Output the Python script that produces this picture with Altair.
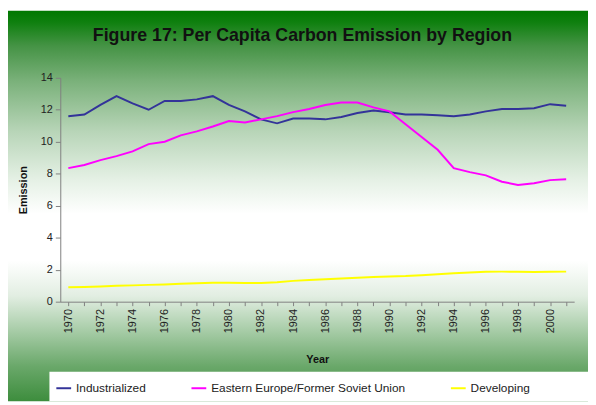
import altair as alt
import pandas as pd

years = list(range(1970, 2002))
industrialized = [11.6, 11.7, 12.3, 12.85, 12.4, 12.0, 12.55, 12.55, 12.65, 12.85, 12.3, 11.9,
                  11.4, 11.15, 11.45, 11.45, 11.4, 11.55, 11.8, 11.95, 11.85, 11.7,
                  11.7, 11.65, 11.6, 11.7, 11.9, 12.05, 12.05, 12.1, 12.35, 12.25]
eefsu = [8.35, 8.55, 8.85, 9.1, 9.4, 9.85, 10.0, 10.4, 10.65, 10.95, 11.3, 11.2,
         11.4, 11.6, 11.85, 12.05, 12.3, 12.45, 12.45, 12.15, 11.9, 11.1,
         10.3, 9.5, 8.35, 8.1, 7.9, 7.5, 7.3, 7.4, 7.6, 7.65]
developing = [0.9, 0.92, 0.95, 1.0, 1.02, 1.05, 1.08, 1.12, 1.15, 1.18, 1.18, 1.17,
              1.17, 1.22, 1.3, 1.35, 1.4, 1.45, 1.5, 1.55, 1.58, 1.6,
              1.65, 1.72, 1.78, 1.82, 1.87, 1.88, 1.87, 1.85, 1.87, 1.88]
series_names = ["Industrialized", "Eastern Europe/Former Soviet Union", "Developing"]
series_colors = ["#333399", "#ff00ff", "#ffff00"]
title_text = ["Figure 17: Per Capita Carbon Emission by Region"]

rows = []
for name, vals in zip(series_names, [industrialized, eefsu, developing]):
    for y, v in zip(years, vals):
        rows.append({"Year": y, "Emission": v, "Region": name})
df = pd.DataFrame(rows)

FONT = "Liberation Sans"
W, H = 521, 227
PL, PT, PR, PB = 53, 68, 14, 101

bg = alt.Chart(pd.DataFrame({"a": [0]})).mark_rect(
    fill=alt.Gradient(
        gradient="linear", x1=0, y1=0, x2=0, y2=1,
        stops=[
            alt.GradientStop(color="#007800", offset=0.0),
            alt.GradientStop(color="#0f800f", offset=0.03),
            alt.GradientStop(color="#459345", offset=0.09),
            alt.GradientStop(color="#7ab17a", offset=0.18),
            alt.GradientStop(color="#b8d5b8", offset=0.31),
            alt.GradientStop(color="#e4f0e4", offset=0.43),
            alt.GradientStop(color="#ffffff", offset=0.52),
            alt.GradientStop(color="#ffffff", offset=0.64),
            alt.GradientStop(color="#e2eee2", offset=0.73),
            alt.GradientStop(color="#a0c8a0", offset=0.83),
            alt.GradientStop(color="#6aa86a", offset=0.91),
            alt.GradientStop(color="#3d8d3d", offset=1.0),
        ],
    )
).encode(
    x=alt.value(-PL), x2=alt.value(W + PR),
    y=alt.value(-PT), y2=alt.value(H + PB),
)

legend_box = alt.Chart(pd.DataFrame({"a": [0]})).mark_rect(fill="white").encode(
    x=alt.value(-11), x2=alt.value(W + PR),
    y=alt.value(298), y2=alt.value(H + PB),
)

title_mark = alt.Chart(pd.DataFrame({"t": title_text})).mark_text(
    font=FONT, fontSize=18, fontWeight="bold", color="#111111",
    align="center", baseline="alphabetic",
).encode(text="t:N", x=alt.value(W / 2 - 15), y=alt.value(-37))

lines = alt.Chart(df).mark_line(strokeWidth=2).encode(
    x=alt.X("Year:Q",
            scale=alt.Scale(domain=[1969.5, 2001.5], nice=False, zero=False),
            axis=alt.Axis(values=years, labelExpr="datum.value % 2 == 0 ? datum.label : ''",
                          format="d", labelAngle=270, labelAlign="right", labelBaseline="middle",
                          grid=False, tickSize=4, labelPadding=3, titlePadding=21,
                          title="Year", zindex=1)),
    y=alt.Y("Emission:Q",
            scale=alt.Scale(domain=[0, 14], nice=False),
            axis=alt.Axis(values=[0, 2, 4, 6, 8, 10, 12, 14], grid=False, tickSize=5,
                          labelPadding=3, titlePadding=12, title="Emission", zindex=1)),
    color=alt.Color("Region:N",
                    scale=alt.Scale(domain=series_names, range=series_colors),
                    sort=series_names,
                    legend=alt.Legend(title=None, orient="none", direction="horizontal",
                                      legendX=-5, legendY=306, symbolType="stroke",
                                      symbolSize=225, symbolStrokeWidth=2, labelLimit=400,
                                      labelFont=FONT, labelFontSize=12, labelColor="#222222",
                                      labelOffset=4, columnPadding=42, zindex=1)),
)

chart = alt.layer(bg, legend_box, title_mark, lines).properties(
    width=W, height=H,
    autosize=alt.AutoSizeParams(type="none"),
    padding={"left": PL, "top": PT, "right": PR, "bottom": PB},
).configure_view(stroke=None).configure_axis(
    labelFont=FONT, labelFontSize=11, labelColor="#222222",
    titleFont=FONT, titleFontSize=11, titleFontWeight="bold", titleColor="#111111",
    domainColor="#808080", tickColor="#808080",
)

chart.save("out.html", embed_options={"renderer": "svg", "actions": False})
